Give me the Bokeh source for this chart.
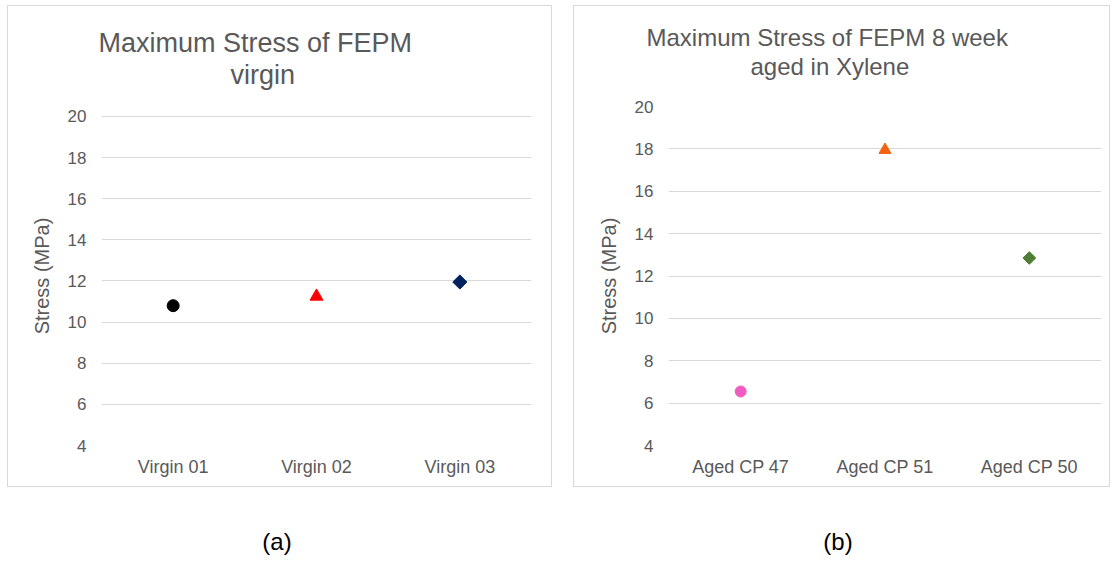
from bokeh.plotting import figure
from bokeh.models import Title, Div, FactorRange, Range1d, FixedTicker
from bokeh.layouts import row, column
from bokeh.embed import file_html
from bokeh.resources import INLINE
import math

# ---- data ----
virgin_labels = ["Virgin 01", "Virgin 02", "Virgin 03"]
virgin_stress = [10.8, 11.25, 11.95]

aged_labels = ["Aged CP 47", "Aged CP 51", "Aged CP 50"]
aged_stress = [6.55, 17.95, 12.85]

y_ticks = [4, 6, 8, 10, 12, 14, 16, 18, 20]

title_a = ["Maximum  Stress of FEPM", "virgin"]
title_b = ["Maximum  Stress of FEPM 8 week", "aged in Xylene"]
y_label = "Stress (MPa)"
panel_names = ["(a)", "(b)"]

# ---- styles ----
FONT = "Liberation Sans"
GREY = "#595959"
GRID = "#d9d9d9"
HAS_STANDOFF = "standoff" in Title.properties()

style_a = dict(colors=["#000000", "#ff0000", "#002060"],
               markers=["circle", "triangle", "square"],
               angles=[0, 0, math.pi / 4],
               sizes=[12, 13, 10])
style_b = dict(colors=["#f25cc2", "#f2620f", "#4e7d35"],
               markers=["circle", "triangle", "square"],
               angles=[0, 0, math.pi / 4],
               sizes=[11, 12, 9])


def make_title(text, size, offset):
    kw = dict(text=text, align="left", offset=offset, text_font=FONT,
              text_font_size=f"{size}px", text_font_style="normal", text_color=GREY)
    if HAS_STANDOFF:
        kw["standoff"] = 0
    return Title(**kw)


def make_panel(labels, values, style, titles, title_size, offsets, width, height,
               borders, spacer_size, y_top):
    p = figure(x_range=FactorRange(*labels), y_range=Range1d(4, y_top),
               width=width, height=height, output_backend="svg",
               toolbar_location=None, title=None,
               min_border_left=borders[0], min_border_right=borders[1],
               min_border_top=borders[2], min_border_bottom=borders[3])
    p.styles = {"border": "1px solid #d9d9d9"}
    p.outline_line_color = None
    p.background_fill_color = "white"
    p.border_fill_color = "white"

    for lab, val, c, m, a, s in zip(labels, values, style["colors"], style["markers"],
                                    style["angles"], style["sizes"]):
        p.scatter(x=[lab], y=[val], marker=m, size=s, angle=a,
                  fill_color=c, line_color=c)

    p.yaxis.ticker = FixedTicker(ticks=y_ticks)
    p.ygrid.ticker = FixedTicker(ticks=y_ticks)
    p.ygrid.grid_line_color = GRID
    p.xgrid.grid_line_color = None
    for ax in (p.xaxis[0], p.yaxis[0]):
        ax.axis_line_color = None
        ax.major_tick_line_color = None
        ax.minor_tick_line_color = None
        ax.major_tick_out = 0
        ax.major_tick_in = 0
        ax.major_label_text_font = FONT
        ax.major_label_text_color = GREY
    p.xaxis.major_label_text_font_size = "18px"
    p.xaxis.major_label_standoff = 11
    p.yaxis.major_label_text_font_size = "17px"
    p.yaxis.major_label_standoff = 15
    p.yaxis.axis_label = y_label
    p.yaxis.axis_label_text_font = FONT
    p.yaxis.axis_label_text_font_size = "20px"
    p.yaxis.axis_label_text_font_style = "normal"
    p.yaxis.axis_label_text_color = GREY
    p.yaxis.axis_label_standoff = 12

    # titles: added from the frame outward
    p.add_layout(Title(text=" ", text_font_size=f"{spacer_size}px"), "above")
    p.add_layout(make_title(titles[1], title_size, offsets[1]), "above")
    p.add_layout(make_title(titles[0], title_size, offsets[0]), "above")
    return p


# panel (a): its axis tops out a little above 20 so both frames can share a top edge
pa = make_panel(virgin_labels, virgin_stress, style_a, title_a, 27, (-3, 129),
                545, 482, (93, 22, 100, 43), 4, 20.486)
pb = make_panel(aged_labels, aged_stress, style_b, title_b, 24, (-22, 82),
                537, 482, (94, 10, 100, 43), 13, 20)

div_style = {"font-family": FONT, "font-size": "24px", "color": "black",
             "text-align": "center", "line-height": "24px"}
da = Div(text=panel_names[0], width=100, height=24, styles=div_style,
         margin=(0, 0, 0, 220))
db = Div(text=panel_names[1], width=100, height=24, styles=div_style,
         margin=(0, 0, 0, 461))

layout = column(row(pa, pb, spacing=21),
                row(da, db, spacing=0, margin=(43, 0, 0, 0)),
                spacing=0, margin=(5, 0, 0, 7))

open("out.html", "w").write(file_html(layout, INLINE))
